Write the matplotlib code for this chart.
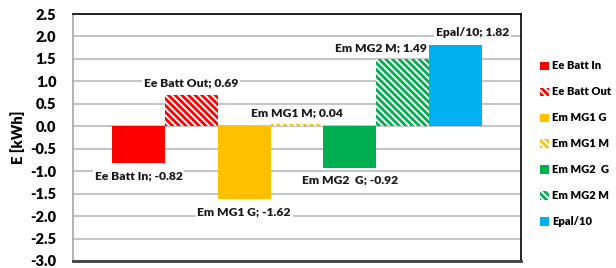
import matplotlib
matplotlib.use("Agg")
import matplotlib.pyplot as plt
from matplotlib.patches import Patch

plt.rcParams['font.family'] = ['Lato', 'DejaVu Sans']
plt.rcParams['hatch.linewidth'] = 2.0

categories = ["Ee Batt In", "Ee Batt Out", "Em MG1 G", "Em MG1 M", "Em MG2  G", "Em MG2 M", "Epal/10"]
legend_labels = ["Ee Batt In", "Ee Batt Out", "Em MG1 G", "Em MG1 M", "Em MG2  G", "Em MG2 M", "Epal/10"]
values = [-0.82, 0.69, -1.62, 0.04, -0.92, 1.49, 1.82]
value_text = ["-0.82", "0.69", "-1.62", "0.04", "-0.92", "1.49", "1.82"]
yticks = [2.5, 2.0, 1.5, 1.0, 0.5, 0.0, -0.5, -1.0, -1.5, -2.0, -2.5, -3.0]
ytick_labels = ["2.5", "2.0", "1.5", "1.0", "0.5", "0.0", "-0.5", "-1.0", "-1.5", "-2.0", "-2.5", "-3.0"]

colors = ["#FF0000", "#FF0000", "#FFC000", "#FFC000", "#00B050", "#00B050", "#00B0F0"]
hatched = [False, True, False, True, False, True, False]
label_offsets = [(0, -9), (0, 9), (0, -9), (0, 8), (0, -9), (-16, 8.5), (12, 8.5)]

HATCH = "\\\\\\\\\\"

fig = plt.figure(figsize=(6.16, 2.68), dpi=100)
ax = fig.add_axes([73/616, 7/268, 448/616, 247/268])

for i, (v, c, h) in enumerate(zip(values, colors, hatched)):
    if h:
        ax.bar(i, v, width=1.0, facecolor="white", edgecolor=c, hatch=HATCH, linewidth=0, zorder=3)
    else:
        ax.bar(i, v, width=1.0, color=c, linewidth=0, zorder=3)

for i, v in enumerate(values):
    dx, dy = label_offsets[i]
    ax.annotate(f"{categories[i]}; {value_text[i]}", xy=(i, v), xytext=(dx, dy),
                textcoords="offset points", ha="center", va="center",
                fontsize=8.7, fontweight="heavy", color="#1a1a1a", zorder=5,
                bbox=dict(boxstyle="square,pad=0.15", fc="white", ec="none"))

ax.set_ylim(-3.0, 2.5)
ax.set_xlim(-0.5 - 0.74, 6.5 + 0.74)
ax.set_yticks(yticks)
ax.set_yticklabels(ytick_labels, fontsize=10.5, fontweight="heavy")
ax.tick_params(axis="y", length=0, pad=12)
ax.set_xticks([])
ax.yaxis.grid(True, color="#BFBFBF", linewidth=1.3, zorder=0)
ax.set_axisbelow(True)
ax.set_ylabel("E [kWh]", fontsize=10.5, fontweight="heavy", labelpad=4)

ax.spines["top"].set_color("black")
ax.spines["top"].set_linewidth(1.2)
ax.spines["right"].set_color("black")
ax.spines["right"].set_linewidth(1.2)
ax.spines["left"].set_color("#A6A6A6")
ax.spines["left"].set_linewidth(1.2)
ax.spines["bottom"].set_color("#404040")
ax.spines["bottom"].set_linewidth(2.0)

handles = []
for c, h, lab in zip(colors, hatched, legend_labels):
    if h:
        handles.append(Patch(facecolor="white", edgecolor=c, hatch=HATCH, linewidth=0, label=lab))
    else:
        handles.append(Patch(facecolor=c, edgecolor="none", label=lab))
fig.legend(handles=handles, loc="upper left", bbox_to_anchor=(536/616, 1 - 56/268),
           frameon=False, handlelength=0.75, handleheight=0.75,
           handletextpad=0.3, labelspacing=1.35, borderaxespad=0,
           prop={"weight": "heavy", "size": 8.0})

fig.savefig("out.png", dpi=100)
